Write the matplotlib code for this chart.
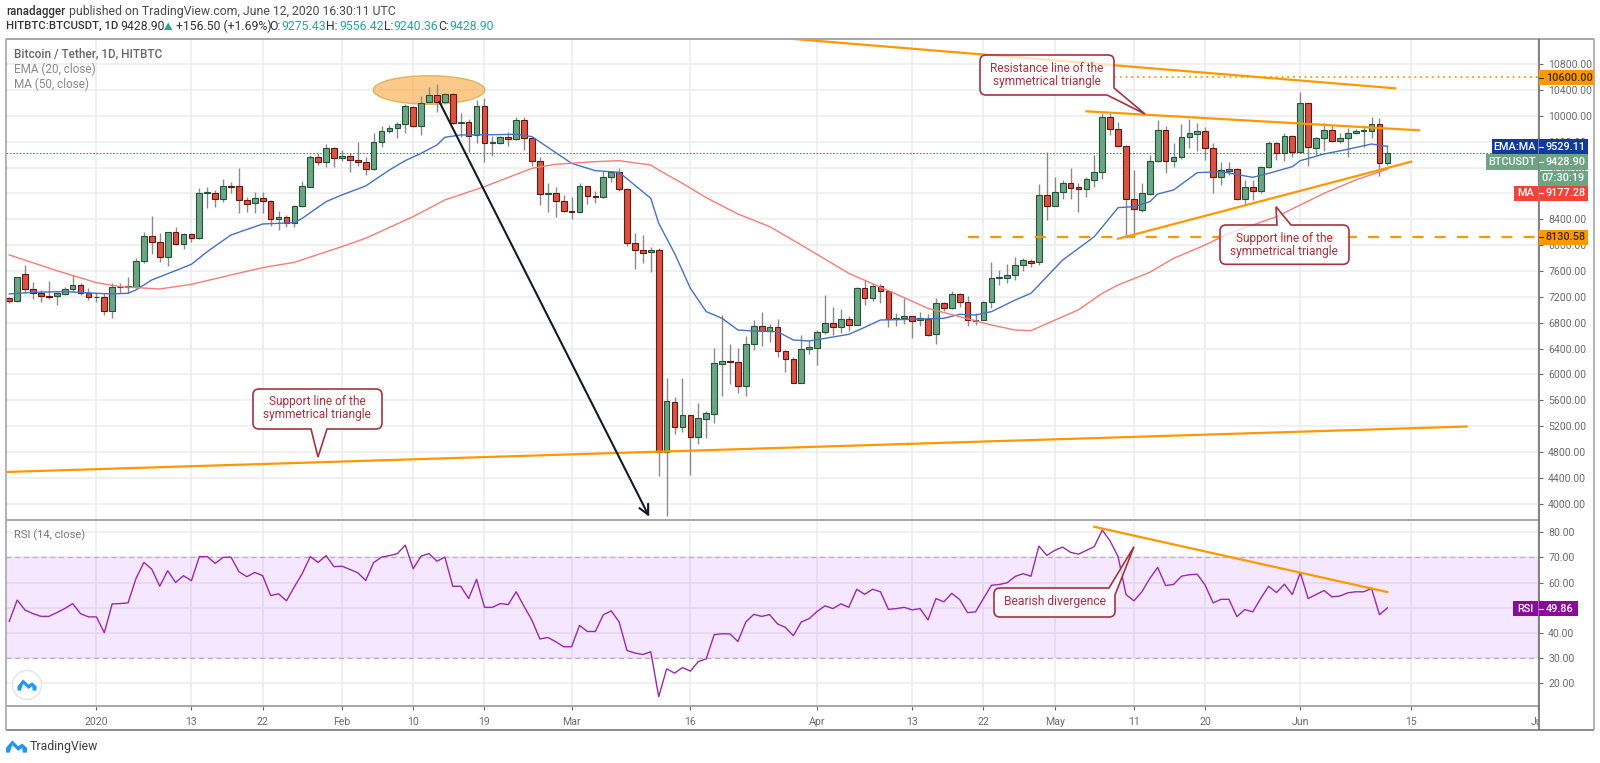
import numpy as np
import pandas as pd
import matplotlib
matplotlib.use("Agg")
import matplotlib.pyplot as plt
from matplotlib.patches import Ellipse, PathPatch, Rectangle, Polygon, Circle
from matplotlib.path import Path
from matplotlib.transforms import Bbox, TransformedBbox

plt.rcParams['font.family'] = ['Roboto', 'DejaVu Sans']

# ================= DATA =================
first_date = "2019-12-21"

opens = [7188, 7136, 7549, 7317, 7255, 7214, 7209, 7250, 7317, 7384,
         7255, 7193, 7193, 6977, 7358, 7348, 7358, 7761, 8148, 8050,
         7818, 8199, 8024, 8174, 8107, 8803, 8813, 8715, 8917, 8912,
         8700, 8648, 8726, 8679, 8411, 8432, 8349, 8602, 8906, 9366,
         9293, 9505, 9355, 9381, 9324, 9283, 9185, 9603, 9768, 9809,
         9882, 10140, 9840, 10212, 10320, 10212, 10336, 9897, 9907, 9706,
         10155, 9582, 9588, 9670, 9644, 9933, 9654, 9308, 8787, 8813,
         8689, 8529, 8519, 8911, 8761, 8741, 9050, 9128, 8875, 8039,
         7925, 7900, 7925, 4804, 5567, 5185, 5366, 5036, 5309, 5392,
         6166, 6207, 6197, 5825, 6475, 6749, 6671, 6733, 6362, 6238,
         5872, 6388, 6414, 6651, 6790, 6739, 6857, 6764, 7332, 7187,
         7363, 7286, 6852, 6873, 6899, 6837, 6857, 6625, 7100, 7022,
         7249, 7120, 6831, 6847, 7126, 7487, 7497, 7533, 7688, 7760,
         7735, 8777, 8612, 8828, 8968, 8895, 8864, 9009, 9138, 9979,
         9793, 9530, 8715, 8539, 8792, 9303, 9783, 9308, 9365, 9669,
         9726, 9767, 9504, 9061, 9148, 9174, 8715, 8895, 8834, 9205,
         9577, 9422, 9685, 9448, 10196, 9504, 9654, 9778, 9618, 9654,
         9742, 9767, 9773, 9876, 9275.43]
highs = [7195, 7510, 7694, 7431, 7307, 7446, 7281, 7358, 7539, 7410,
         7333, 7255, 7255, 7410, 7410, 7503, 7797, 8199, 8452, 8184,
         8205, 8277, 8194, 8194, 8891, 8906, 8855, 9020, 8984, 9190,
         8752, 8829, 8829, 8700, 8530, 8468, 8623, 8994, 9397, 9422,
         9567, 9526, 9474, 9433, 9603, 9371, 9742, 9846, 9861, 9913,
         10186, 10155, 10310, 10444, 10496, 10362, 10362, 10042, 9949, 10248,
         10274, 9691, 9691, 9758, 9990, 9990, 9680, 9370, 8968, 8895,
         8777, 8751, 8957, 8921, 8844, 9153, 9153, 9190, 8880, 8183,
         8152, 7967, 7951, 5949, 5645, 5949, 5370, 5552, 5433, 6403,
         6919, 6465, 6403, 6599, 6842, 6960, 6780, 6852, 6377, 6264,
         6610, 6532, 6687, 7229, 7048, 7007, 6904, 7358, 7461, 7420,
         7399, 7306, 6945, 7187, 6904, 6971, 6935, 7187, 7126, 7291,
         7265, 7218, 6945, 7136, 7734, 7616, 7703, 7822, 7796, 7790,
         8947, 9448, 9061, 9009, 9190, 8968, 9061, 9396, 10041, 10041,
         9912, 9551, 9164, 8968, 9396, 9938, 9845, 9577, 9876, 9948,
         9896, 9824, 9577, 9293, 9293, 9190, 9009, 9009, 9226, 9618,
         9602, 9731, 9706, 10376, 10206, 9680, 9886, 9860, 9731, 9819,
         9798, 9860, 9989, 9964, 9556.42]
lows = [7111, 7126, 7265, 7162, 7126, 7162, 7075, 7229, 7281, 7229,
        7152, 7126, 6920, 6868, 7255, 7265, 7333, 7730, 7864, 7745,
        7678, 8003, 7947, 8055, 8101, 8571, 8586, 8674, 8803, 8494,
        8519, 8494, 8494, 8303, 8236, 8277, 8287, 8586, 8900, 9242,
        9206, 9206, 9309, 9139, 9226, 9087, 9164, 9526, 9732, 9655,
        9742, 9835, 9706, 10196, 10067, 10196, 9876, 9680, 9448, 9577,
        9293, 9381, 9567, 9536, 9629, 9474, 9226, 8617, 8519, 8441,
        8519, 8405, 8493, 8637, 8658, 8736, 8973, 8839, 7992, 7631,
        7729, 7590, 4432, 3810, 5077, 5113, 4442, 4917, 5015, 5253,
        5665, 5851, 5717, 5670, 6377, 6439, 6506, 6274, 6042, 5865,
        5861, 6315, 6150, 6625, 6610, 6635, 6677, 6760, 7074, 7141,
        7110, 6728, 6754, 6775, 6568, 6754, 6594, 6470, 6981, 7007,
        7048, 6749, 6759, 6842, 7022, 7378, 7420, 7461, 7605, 7657,
        7693, 8390, 8605, 8710, 8715, 8519, 8751, 8906, 9019, 9706,
        9515, 8132, 8132, 8519, 8782, 9293, 9123, 9215, 9329, 9499,
        9463, 9319, 8803, 8932, 9081, 8699, 8622, 8699, 8803, 9190,
        9319, 9308, 9370, 9432, 9226, 9396, 9463, 9602, 9587, 9360,
        9721, 9515, 9654, 9076, 9240.36]
closes = [7136, 7503, 7317, 7265, 7209, 7204, 7255, 7317, 7384, 7255,
          7193, 7198, 6977, 7348, 7348, 7363, 7761, 8148, 8055, 7818,
          8199, 8024, 8179, 8107, 8803, 8829, 8715, 8917, 8906, 8705,
          8643, 8726, 8679, 8411, 8437, 8349, 8602, 8912, 9366, 9293,
          9505, 9355, 9381, 9324, 9283, 9185, 9603, 9768, 9809, 9882,
          10155, 9840, 10207, 10320, 10212, 10336, 9897, 9907, 9696, 10155,
          9588, 9593, 9670, 9644, 9933, 9660, 9308, 8787, 8813, 8689,
          8534, 8519, 8911, 8756, 8746, 9050, 9138, 8875, 8039, 7925,
          7884, 7925, 4804, 5583, 5185, 5366, 5036, 5320, 5407, 6171,
          6212, 6197, 5825, 6475, 6749, 6666, 6733, 6362, 6238, 5872,
          6393, 6419, 6656, 6790, 6739, 6862, 6764, 7332, 7187, 7363,
          7286, 6857, 6873, 6899, 6831, 6873, 6615, 7100, 7022, 7249,
          7126, 6837, 6847, 7126, 7487, 7502, 7538, 7688, 7776, 7729,
          8777, 8612, 8828, 8968, 8880, 8864, 9024, 9128, 9979, 9793,
          9530, 8715, 8555, 8803, 9303, 9783, 9308, 9365, 9675, 9731,
          9767, 9504, 9061, 9159, 9174, 8715, 8895, 8839, 9205, 9577,
          9422, 9685, 9448, 10196, 9515, 9654, 9783, 9607, 9659, 9742,
          9773, 9783, 9876, 9267, 9428.90]

# EMA and MA at their bends (days counted from 1 Jan 2020)
ema_days = [-11, -8, -4, 0, 2, 4, 5, 7, 10, 12, 14, 17, 21, 25, 26, 29, 31, 34, 37, 39, 41,
            43, 44, 46, 48, 53, 55, 58, 60, 63, 66, 70, 71, 73, 75, 77, 79, 81, 83, 86, 88,
            90, 92, 95, 97, 99, 103, 107, 109, 111, 113, 116, 118, 122, 126, 129, 131, 133,
            134, 136, 139, 142, 146, 148, 151, 152, 155, 158, 161, 163]
ema_vals = [7245, 7271, 7281, 7255, 7245, 7255, 7307, 7462, 7606, 7704, 7900, 8158, 8328, 8349,
            8416, 8674, 8777, 8917, 9164, 9309, 9422, 9551, 9670, 9706, 9706, 9716, 9680, 9432,
            9267, 9153, 9128, 8725, 8338, 7874, 7332, 6971, 6868, 6687, 6671, 6661, 6532, 6517,
            6558, 6620, 6728, 6842, 6852, 6868, 6930, 6919, 6971, 7151, 7255, 7770, 8132, 8581,
            8596, 8674, 8792, 8854, 9123, 9138, 9050, 9112, 9215, 9308, 9411, 9484, 9566, 9529.11]
ma_days = [-11, -5, 0, 3, 8, 12, 17, 21, 25, 31, 34, 40, 44, 49, 55, 58, 63, 66, 70, 71, 74, 77,
           81, 85, 89, 95, 100, 105, 109, 113, 116, 118, 124, 127, 129, 133, 136, 140, 143, 149,
           152, 155, 159, 163]
ma_vals = [7849, 7606, 7420, 7358, 7322, 7394, 7539, 7652, 7735, 7978, 8107, 8442, 8700, 8906,
           9190, 9252, 9293, 9308, 9241, 9164, 8957, 8735, 8483, 8287, 8003, 7564, 7296, 7022,
           6893, 6764, 6687, 6677, 7000, 7255, 7384, 7580, 7796, 8003, 8183, 8441, 8622, 8803,
           9009, 9177.28]

rsi_vals = [44.5, 53, 49, 47.6, 46.5, 46.5, 48, 49.6, 51.6, 47.6, 46.3, 46.3, 40, 51.5, 51.6,
            51.9, 61.6, 68, 65.3, 58.5, 64.7, 60, 62.7, 60.7, 70.3, 70.3, 67.6, 70, 70.1, 64.3,
            62.3, 64, 62.7, 54.8, 55.5, 52.7, 58.3, 63.6, 70.3, 68, 70.7, 66.3, 66.5, 65.2, 63.9,
            60.8, 67.9, 70.1, 70.7, 71.5, 74.9, 65.5, 70.5, 71.5, 68.5, 70.1, 58.5, 58.5, 53.6,
            61.3, 50.1, 50.1, 51.6, 51.2, 56.3, 50.5, 44.9, 37.5, 38.1, 36.4, 34.4, 34.4, 42.9,
            40.5, 40.5, 47.1, 48.7, 44.3, 32.9, 31.9, 31.3, 32.4, 14.5, 25.6, 23.9, 26.1, 24.7,
            28.5, 29.6, 39.2, 39.6, 39.5, 36.5, 44.3, 47.3, 46.5, 47.2, 43.5, 42.1, 38.8, 44.3,
            45.6, 48.5, 50.7, 49.6, 51.5, 50.1, 57.3, 55.3, 57.3, 56.3, 49.3, 49.6, 50.1, 49.1,
            49.6, 45.1, 53.6, 52.3, 55.7, 53.2, 48, 48.3, 53.6, 58.9, 59.2, 59.9, 62.4, 63.5,
            62.5, 74.5, 70.8, 72.8, 74.1, 72, 71.3, 72.8, 74.3, 80.9, 76.5, 70.3, 55.2, 52.7,
            56.3, 61.6, 66, 58.8, 59.2, 62.5, 63.1, 63.3, 58.9, 51.9, 53.3, 53.3, 46.4, 49.2,
            48.3, 53.6, 58.5, 56, 59.3, 55.2, 63.9, 53.6, 55.2, 56.8, 54.3, 54.6, 55.9, 56.3,
            56.3, 57.6, 47.2, 49.86]

price_ticks = list(range(4000, 11000, 400))
rsi_ticks = [20, 30, 40, 50, 60, 70, 80]
time_dates = ["2020-01-01", "2020-01-13", "2020-01-22", "2020-02-01", "2020-02-10", "2020-02-19",
              "2020-03-01", "2020-03-16", "2020-04-01", "2020-04-13", "2020-04-22", "2020-05-01",
              "2020-05-11", "2020-05-20", "2020-06-01", "2020-06-15", "2020-07-01"]
time_labels = ["2020", "13", "22", "Feb", "10", "19", "Mar", "16", "Apr", "13", "22", "May",
               "11", "20", "Jun", "15", "Jul"]

# drawn lines: (day, price)
top_trend = ([88, 164], [11192, 10428])
resistance_trend = ([125, 167], [10072, 9778])
support_trend = ([129, 166], [8100, 9292])
long_support = ([-11.45, 173], [4489, 5193])
rsi_trend = ([126, 163], [82.2, 56.2])
level_high = 10600.00
level_low = 8130.58
last_price = 9428.90
last_ema = 9529.11
last_ma = 9177.28
last_rsi = 49.86

# ================= COLOURS =================
UP = "#6ba583"
DOWN = "#d75442"
UP_EDGE = "#225437"
DOWN_EDGE = "#6b1410"
WICK = "#8a8a8c"
ORANGE = "#ff9800"
GRID = "#ececec"
AXIS_TXT = "#6b6b6b"
NOTE = "#a8323e"
PURPLE = "#9c27b0"

# ================= FIGURE =================
W, H = 1600, 763
fig = plt.figure(figsize=(W / 100, H / 100), dpi=100, facecolor="white")


def px_rect(x0, y0, x1, y1):
    return [x0 / W, 1 - y1 / H, (x1 - x0) / W, (y1 - y0) / H]


ax = fig.add_axes(px_rect(5.7, 38.5, 1538.5, 520))
ax_rsi = fig.add_axes(px_rect(5.7, 520, 1538.5, 706))
over = fig.add_axes([0, 0, 1, 1], zorder=10)
over.set_xlim(0, W)
over.set_ylim(H, 0)
over.axis("off")
over.patch.set_alpha(0)

dates = pd.date_range(first_date, periods=len(closes))
start = pd.Timestamp("2020-01-01")
days = np.array((dates - start).days)
time_pos = [(pd.Timestamp(d) - start).days for d in time_dates]

o = np.array(opens)
c = np.array(closes)
hi = np.array(highs)
lo = np.array(lows)
up = c >= o

# ----- price pane -----
ax.set_xlim(-11.45, 182.08)
ax.set_ylim(3746, 11199)
ax.set_xticks(time_pos)
ax.tick_params(axis="x", length=0, labelbottom=False)
ax.set_yticks(price_ticks)
ax.set_yticklabels([f"{v:.2f}" for v in price_ticks])
ax.yaxis.tick_right()
ax.tick_params(axis="y", length=3, width=0.8, color="#666666", labelsize=7.6, labelcolor=AXIS_TXT, pad=4)
ax.grid(True, color=GRID, lw=1.1)
ax.set_axisbelow(True)
for s in ax.spines.values():
    s.set_visible(False)

ax.add_patch(Ellipse((42, 10402), 14.1, 444, fc="#f9a63a", ec="#c79a1e", lw=1, alpha=0.6, zorder=1.5))
ax.vlines(days, lo, hi, color=WICK, lw=1.0, zorder=2)
ax.bar(days[up], np.maximum(c[up] - o[up], 8), bottom=o[up], width=0.72, color=UP, edgecolor=UP_EDGE, lw=0.8, zorder=3)
ax.bar(days[~up], np.maximum(o[~up] - c[~up], 8), bottom=c[~up], width=0.72, color=DOWN, edgecolor=DOWN_EDGE, lw=0.8, zorder=3)

ax.plot(ema_days, ema_vals, color="#4472c4", lw=1.0, zorder=4)
ax.plot(ma_days, ma_vals, color="#f77c74", lw=1.0, zorder=4)
ax.axhline(last_price, color="#3f8f5f", lw=0.8, ls=(0, (1.5, 1.5)), zorder=2)

ax.plot(*top_trend, color=ORANGE, lw=1.6, zorder=5)
ax.plot(*resistance_trend, color=ORANGE, lw=1.6, zorder=5)
ax.plot(*support_trend, color=ORANGE, lw=1.6, zorder=5)
ax.plot(*long_support, color=ORANGE, lw=1.6, zorder=5)
ax.plot([128.5, 182.08], [level_high, level_high], color=ORANGE, lw=1.3, ls=(0, (1, 2.2)), zorder=5)
ax.plot([110, 182.08], [level_low, level_low], color=ORANGE, lw=1.6, ls=(0, (5, 5)), zorder=5)

ax.annotate("", xy=(69.8, 3797), xytext=(43.3, 10221), zorder=7,
            arrowprops=dict(arrowstyle="->,head_length=0.7,head_width=0.35", color="#0e1c2b", lw=1.5,
                            shrinkA=0, shrinkB=0))

# ----- RSI pane -----
ax_rsi.set_xlim(-11.45, 182.08)
ax_rsi.set_ylim(10.8, 84.9)
ax_rsi.axhspan(30, 70, color="#9915ff", alpha=0.1, lw=0, zorder=1)
ax_rsi.set_yticks(rsi_ticks)
ax_rsi.set_yticklabels([f"{v:.2f}" for v in rsi_ticks])
ax_rsi.yaxis.tick_right()
ax_rsi.tick_params(axis="y", length=3, width=0.8, color="#666666", labelsize=7.6, labelcolor=AXIS_TXT, pad=4)
ax_rsi.grid(True, color=GRID, lw=1.1)
ax_rsi.set_axisbelow(True)
ax_rsi.axhline(70, color="#b9aebd", lw=0.9, ls=(0, (4, 3)), zorder=2)
ax_rsi.axhline(30, color="#b9aebd", lw=0.9, ls=(0, (4, 3)), zorder=2)
ax_rsi.plot(days, rsi_vals, color=PURPLE, lw=1.0, zorder=4)
ax_rsi.plot(*rsi_trend, color=ORANGE, lw=1.6, zorder=5)
for s in ax_rsi.spines.values():
    s.set_visible(False)

ax_rsi.set_xticks(time_pos)
ax_rsi.set_xticklabels(time_labels)
ax_rsi.tick_params(axis="x", length=3, width=0.8, color="#666666", labelsize=7.6, labelcolor=AXIS_TXT, pad=5)
clip = TransformedBbox(Bbox([[0, 0], [1538.5 / W, 1]]), fig.transFigure)
for lab in ax_rsi.get_xticklabels():
    lab.set_clip_box(clip)
    lab.set_clip_on(True)


# ================= OVERLAY: frames, tags, notes =================
def hline(y, x0=5.7, x1=1594, col="#a6a6a6", lw=1.4):
    over.plot([x0, x1], [y, y], color=col, lw=lw, solid_capstyle="butt")


def vline(x, y0=38.5, y1=730, col="#a6a6a6", lw=1.2):
    over.plot([x, x], [y0, y1], color=col, lw=lw, solid_capstyle="butt")


hline(38.5)
hline(520, x1=1538.5)
hline(706, x1=1538.5)
hline(730, col="#8c8c8c")
vline(5.7)
vline(1594)
vline(1538.5, col="#6e6e6e")


def tag(y, text, color, name=None, name_x=None, x1=1588, h=15, txt="white"):
    over.add_patch(Rectangle((1538.5, y - h / 2), x1 - 1538.5, h, fc=color, ec="none", zorder=3))
    over.plot([1538.5, 1543], [y, y], color="white" if txt == "white" else "#333333", lw=0.8, zorder=4)
    over.text(1546, y, text, color=txt, fontsize=7.8, fontweight="medium", va="center", ha="left", zorder=4)
    if name:
        over.add_patch(Rectangle((name_x, y - h / 2), 1538 - name_x, h, fc=color, ec="none", zorder=3))
        over.text((name_x + 1538) / 2, y, name, color=txt, fontsize=7.8, fontweight="medium", va="center", ha="center", zorder=4)


# the tags are pushed apart on the axis, so they do not sit exactly at their values
tag(146.7, f"{last_ema:.2f}", "#0f3c9b", "EMA:MA", 1492)
tag(162, f"{last_price:.2f}", UP, "BTCUSDT", 1486, h=16)
over.add_patch(Rectangle((1538.5, 170.5), 49.5, 15, fc=UP, ec="none", zorder=3))
over.text(1563, 178, "07:30:19", color="white", fontsize=7.8, fontweight="medium", va="center", ha="center", zorder=4)
tag(193, f"{last_ma:.2f}", "#f44336", "MA", 1513.6)
tag(237, f"{level_low:.2f}", ORANGE, txt="#3a2a10")
tag(77.7, f"{level_high:.2f}", ORANGE, x1=1594, txt="#3a2a10")
tag(608.7, f"{last_rsi:.2f}", "#8a0b9a", "RSI", 1513, x1=1578)


def callout(points, lines, cx, cy, size=8.6):
    verts, codes = [], []
    n = len(points)
    for i, (x, y, r) in enumerate(points):
        p = np.array([x, y], float)
        if r == 0:
            verts.append(p)
            codes.append(Path.LINETO)
        else:
            prev = np.array(points[i - 1][:2], float)
            nxt = np.array(points[(i + 1) % n][:2], float)
            a = p + (prev - p) / np.linalg.norm(prev - p) * r
            b = p + (nxt - p) / np.linalg.norm(nxt - p) * r
            verts += [a, p, b]
            codes += [Path.LINETO, Path.CURVE3, Path.CURVE3]
    codes[0] = Path.MOVETO
    verts.append(verts[0])
    codes.append(Path.CLOSEPOLY)
    over.add_patch(PathPatch(Path(verts, codes), fc=(1, 1, 1, 0.72), ec=NOTE, lw=1.2, zorder=5))
    over.text(cx, cy, lines, color=NOTE, fontsize=size, ha="center", va="center", linespacing=1.0, zorder=6)


callout([(980, 55, 6), (1114, 55, 6), (1114, 88, 0), (1145, 114, 0), (1107, 95, 0), (980, 95, 6)],
        "Resistance line of the\nsymmetrical triangle", 1047, 75)
callout([(1220, 225, 6), (1277, 225, 0), (1276, 206.7, 0), (1291, 225, 0), (1349, 225, 6), (1349, 264.3, 6), (1220, 264.3, 6)],
        "Support line of the\nsymmetrical triangle", 1284, 245)
callout([(253, 389, 6), (382, 389, 6), (382, 429, 6), (327, 429, 0), (318, 457, 0), (311, 429, 0), (253, 429, 6)],
        "Support line of the\nsymmetrical triangle", 317, 408)
callout([(994, 588, 6), (1109, 588, 0), (1134, 546.7, 0), (1115, 595, 0), (1115, 617, 6), (994, 617, 6)],
        "Bearish divergence", 1055, 602, size=8.7)

# legend lines
over.text(13.5, 54, "Bitcoin / Tether, 1D, HITBTC", color="#666666", fontsize=8.5, fontweight="medium", va="center")
over.text(13.5, 69, "EMA (20, close)", color="#8a8a8a", fontsize=8.5, va="center")
over.text(13.5, 84, "MA (50, close)", color="#8a8a8a", fontsize=8.5, va="center")
over.text(13.5, 535.7, "RSI (14, close)", color="#777777", fontsize=8, va="center")

# header
TEAL = "#26a69a"
DARK = "#333333"
over.text(6, 11, "ranadagger", color=DARK, fontsize=8.3, fontweight="medium", va="center")
over.text(69, 11, "published on TradingView.com, June 12, 2020 16:30:11 UTC", color="#4a4a4a", fontsize=8.8, va="center")
over.text(6, 26, "HITBTC:BTCUSDT, 1D", color=DARK, fontsize=8.2, fontweight="medium", va="center")
header_parts = [(120, "9428.90", DARK), (176.5, "+156.50 (+1.69%)", DARK),
                (269, "O:", DARK), (281, "9275.43", TEAL), (326, "H:", DARK), (339, "9556.42", TEAL),
                (384, "L:", DARK), (393, "9240.36", TEAL), (438, "C:", DARK), (449, "9428.90", TEAL)]
for x, s, col in header_parts:
    over.text(x, 26, s, color=col, fontsize=8.8, va="center")
over.add_patch(Polygon([(164, 30), (172.5, 30), (168.2, 22.5)], fc=TEAL, ec="none"))


# logos
def tv_logo(cx, cy, w):
    pts = [(-0.5, 0.45), (-0.5, 0.1), (-0.2, -0.45), (0.08, -0.02), (0.27, -0.22), (0.5, 0.1), (0.5, 0.45),
           (0.3, 0.45), (0.27, 0.1), (0.08, 0.32), (-0.2, -0.1), (-0.32, 0.45)]
    over.add_patch(Polygon([(cx + a * w, cy + b * w * 0.65) for a, b in pts], fc="#2196f3", ec="none", zorder=6))


over.add_patch(Circle((27, 685), 14.5, fc="white", ec="#e4e4e4", lw=1, zorder=5))
tv_logo(27, 685, 19)
tv_logo(16.5, 746.5, 21)
over.text(30, 746.5, "TradingView", color="#3c3c3c", fontsize=8.8, va="center")

fig.savefig("out.png", dpi=100, facecolor="white")
